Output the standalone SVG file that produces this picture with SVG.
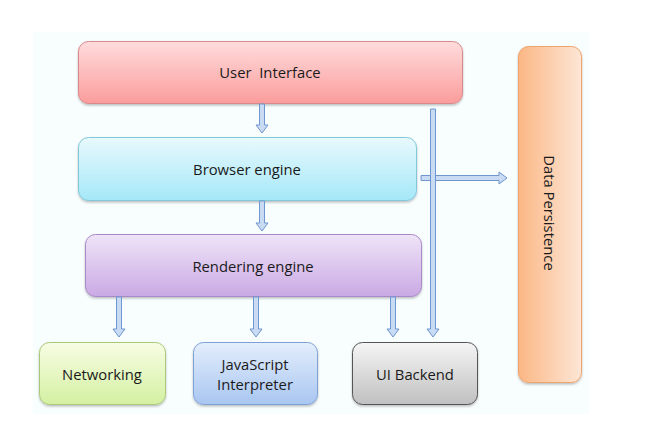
<svg xmlns="http://www.w3.org/2000/svg" width="671" height="446" viewBox="0 0 671 446">
<defs>
<linearGradient id="gUI" x1="0" y1="0" x2="0" y2="1"><stop offset="0" stop-color="#ffdcdc"/><stop offset="1" stop-color="#fb9c9c"/></linearGradient>
<linearGradient id="gBE" x1="0" y1="0" x2="0" y2="1"><stop offset="0" stop-color="#e8f9fd"/><stop offset="1" stop-color="#a5e8f8"/></linearGradient>
<linearGradient id="gRE" x1="0" y1="0" x2="0" y2="1"><stop offset="0" stop-color="#efe4f7"/><stop offset="1" stop-color="#caa9e4"/></linearGradient>
<linearGradient id="gNW" x1="0" y1="0" x2="0" y2="1"><stop offset="0" stop-color="#f7fde4"/><stop offset="1" stop-color="#d4f0a2"/></linearGradient>
<linearGradient id="gJS" x1="0" y1="0" x2="0" y2="1"><stop offset="0" stop-color="#e4eefc"/><stop offset="1" stop-color="#a8c6f1"/></linearGradient>
<linearGradient id="gUB" x1="0" y1="0" x2="0" y2="1"><stop offset="0" stop-color="#f5f5f5"/><stop offset="1" stop-color="#c0c0c0"/></linearGradient>
<linearGradient id="gDP" x1="0" y1="0" x2="1" y2="0"><stop offset="0" stop-color="#fbb785"/><stop offset="1" stop-color="#fde6d6"/></linearGradient>
<filter id="sh" x="-10%" y="-10%" width="120%" height="130%"><feDropShadow dx="0" dy="1.5" stdDeviation="1.2" flood-color="#000" flood-opacity="0.25"/></filter>
</defs>
<style>
.box{filter:url(#sh);stroke-width:1}
.t{font-family:"Open Sans","Liberation Sans",sans-serif;font-size:14.8px;fill:#1a1a1a;text-anchor:middle;dominant-baseline:central}
.arr{fill:#c8dbf3;stroke:#6e96cf;stroke-width:1}
</style>
<rect x="33" y="32" width="556" height="382" fill="#f8fdfe"/>
<g id="user-interface"><rect class="box" x="78.5" y="41.5" width="384" height="62" rx="10" fill="url(#gUI)" stroke="#d8898c"/><text class="t" x="270" y="72" xml:space="preserve">User  Interface</text></g>
<g id="browser-engine"><rect class="box" x="78.5" y="137.5" width="338" height="63" rx="10" fill="url(#gBE)" stroke="#80c8da"/><text class="t" x="247" y="169">Browser engine</text></g>
<g id="rendering-engine"><rect class="box" x="85.5" y="234.5" width="336" height="62" rx="10" fill="url(#gRE)" stroke="#a88ac8"/><text class="t" x="253" y="266">Rendering engine</text></g>
<g id="networking"><rect class="box" x="39.5" y="342.5" width="126" height="62" rx="10" fill="url(#gNW)" stroke="#a9c878"/><text class="t" x="102" y="374">Networking</text></g>
<g id="javascript-interpreter"><rect class="box" x="193.5" y="342.5" width="124" height="62" rx="10" fill="url(#gJS)" stroke="#7fa2d6"/><text class="t" x="255" y="364">JavaScript</text><text class="t" x="255" y="384">Interpreter</text></g>
<g id="ui-backend"><rect class="box" x="352.5" y="342.5" width="125" height="62" rx="10" fill="url(#gUB)" stroke="#555"/><text class="t" x="415" y="374">UI Backend</text></g>
<g id="data-persistence"><rect class="box" x="518.5" y="46.5" width="63" height="336" rx="10" fill="url(#gDP)" stroke="#efa46c"/><text class="t" x="550" y="213" transform="rotate(90 550 213)">Data Persistence</text></g>
<g id="connectors">
<polygon class="arr" points="259.5,104 264.5,104 264.5,125 268,125 262,133 256,125 259.5,125"/>
<polygon class="arr" points="259.5,201 264.5,201 264.5,223 268,223 262,231 256,223 259.5,223"/>
<polygon class="arr" points="116.5,297 121.5,297 121.5,329 125,329 119,337 113,329 116.5,329"/>
<polygon class="arr" points="253.5,297 258.5,297 258.5,329 262,329 256,337 250,329 253.5,329"/>
<polygon class="arr" points="390.5,297 395.5,297 395.5,329 399,329 393,337 387,329 390.5,329"/>
<polygon class="arr" points="421,175.5 499,175.5 499,172 507,178 499,184 499,180.5 421,180.5"/>
<polygon class="arr" points="430.5,109 435.5,109 435.5,329 439,329 433,337 427,329 430.5,329"/>
</g>
</svg>
